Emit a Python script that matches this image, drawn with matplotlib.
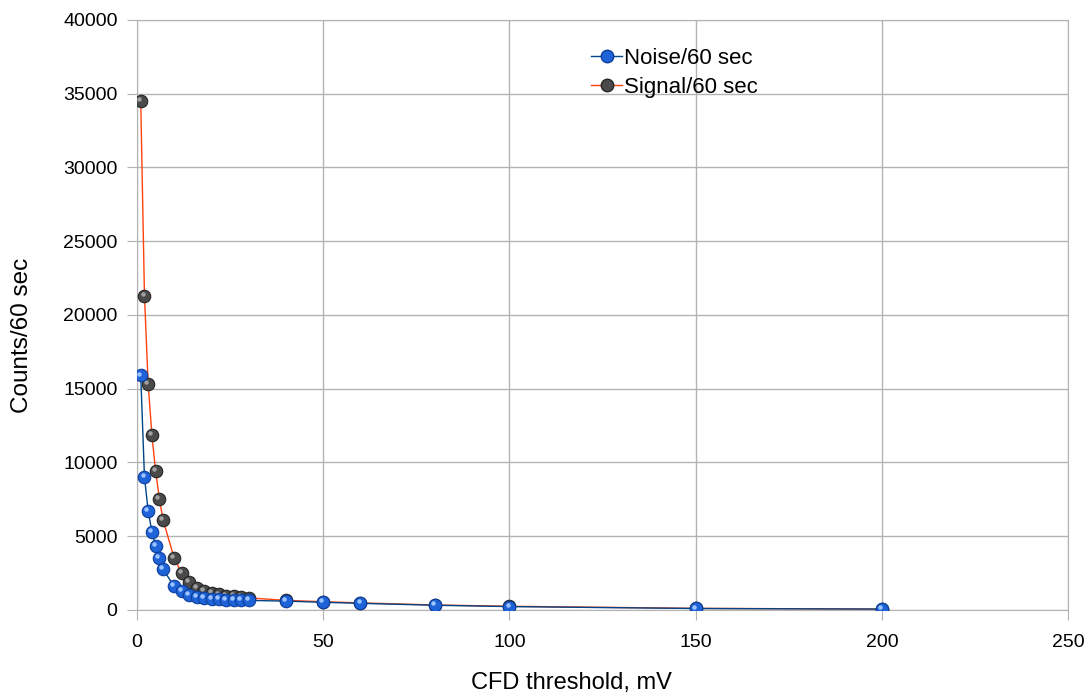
import numpy as np
import matplotlib.pyplot as plt
from matplotlib.transforms import ScaledTranslation

plt.rcParams['font.family'] = ['Liberation Sans', 'DejaVu Sans']

# CFD threshold, mV
threshold = [1, 2, 3, 4, 5, 6, 7, 10, 12, 14, 16, 18, 20, 22, 24, 26, 28, 30,
             40, 50, 60, 80, 100, 150, 200]
noise = [15900, 9000, 6700, 5300, 4350, 3550, 2750, 1600, 1300, 1000, 900, 800,
         750, 720, 700, 680, 660, 650, 600, 520, 450, 320, 230, 100, 60]
signal = [34500, 21300, 15300, 11850, 9400, 7550, 6100, 3500, 2500, 1900, 1500,
          1280, 1150, 1050, 980, 920, 870, 820, 650, 560, 480, 340, 250, 110, 60]

fig = plt.figure(figsize=(10.9, 6.96), dpi=100)
ax = fig.add_axes([0.1257, 0.1236, 0.8543, 0.8477])

grid_c = '#b3b3b3'
hl = ScaledTranslation(-1.4 / 72, 1.4 / 72, fig.dpi_scale_trans)
ms = 9

# signal series (under)
ax.plot(threshold, signal, '-', color='#ff420e', lw=1.0, zorder=3)
ax.plot(threshold, signal, 'o', ms=ms, mfc='#4a4a4a', mec='#262626', mew=0.8, zorder=4)
ax.plot(threshold, signal, 'o', ms=3.2, mfc='#a0a0a0', mec='none', zorder=5,
        transform=ax.transData + hl)

# noise series (on top)
ax.plot(threshold, noise, '-', color='#004586', lw=1.0, zorder=6)
ax.plot(threshold, noise, 'o', ms=ms, mfc='#1f63d8', mec='#0d3f9a', mew=0.8, zorder=7)
ax.plot(threshold, noise, 'o', ms=3.2, mfc='#9cc4ff', mec='none', zorder=8,
        transform=ax.transData + hl)

ax.set_xlim(0, 250)
ax.set_ylim(0, 40000)
ax.set_xticks(np.arange(0, 251, 50))
ax.set_yticks(np.arange(0, 40001, 5000))
ax.grid(True, color=grid_c, lw=1.0)
ax.set_axisbelow(True)
for s in ax.spines.values():
    s.set_color(grid_c)
ax.tick_params(length=7, color=grid_c, labelsize=14)
ax.tick_params(axis='x', pad=10)
ax.tick_params(axis='y', pad=7)

# axis titles placed like the original
fig.text(571 / 1090, 1 - 683 / 696, 'CFD threshold, mV', fontsize=17,
         ha='center', va='center')
fig.text(22 / 1090, 1 - 335 / 696, 'Counts/60 sec', fontsize=17.5,
         rotation=90, ha='center', va='center')

# legend proxies
ln1, = ax.plot([], [], '-o', color='#004586', lw=1.0, ms=ms, mfc='#1f63d8', mec='#0d3f9a')
ln2, = ax.plot([], [], '-o', color='#ff420e', lw=1.0, ms=ms, mfc='#4a4a4a', mec='#262626')
leg = fig.legend([ln1, ln2], ['Noise/60 sec', 'Signal/60 sec'],
                 loc='upper left', bbox_to_anchor=(0.524, 0.96), frameon=False,
                 fontsize=16, handlelength=1.4, handletextpad=0.1, labelspacing=0.35)

fig.savefig('out.png', dpi=100)
